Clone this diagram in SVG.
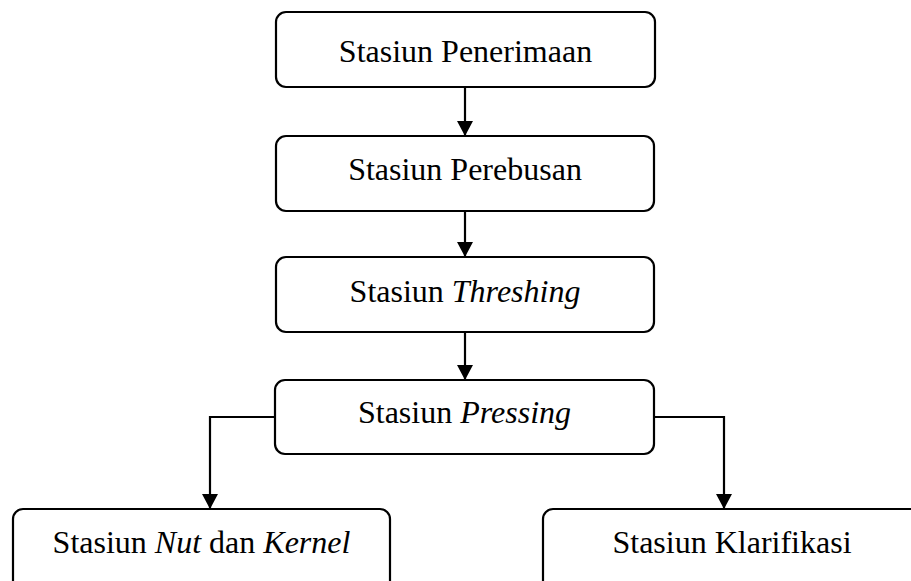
<svg xmlns="http://www.w3.org/2000/svg" width="911" height="581" viewBox="0 0 911 581">
<defs>
<style>
.box{fill:#fff;stroke:#000;stroke-width:2.2}
.lbl{font-family:"Liberation Serif","Times New Roman",serif;font-size:32px;fill:#000;text-anchor:middle}
.it{font-style:italic}
.ln{fill:none;stroke:#000;stroke-width:2.2}
</style>
<marker id="ah" viewBox="0 0 15 16" refX="15" refY="8" markerWidth="15" markerHeight="16" markerUnits="userSpaceOnUse" orient="auto">
<path d="M0,0 L15,8 L0,16 Z" fill="#000"/>
</marker>
</defs>
<rect width="911" height="581" fill="#fff"/>
<g id="connectors">
<line class="ln" x1="465" y1="87" x2="465" y2="136" marker-end="url(#ah)"/>
<line class="ln" x1="465" y1="211" x2="465" y2="257" marker-end="url(#ah)"/>
<line class="ln" x1="465" y1="332" x2="465" y2="380" marker-end="url(#ah)"/>
<polyline class="ln" points="275,417 210,417 210,509" marker-end="url(#ah)"/>
<polyline class="ln" points="654,417 724,417 724,509" marker-end="url(#ah)"/>
</g>
<g id="n1">
<rect class="box" x="276" y="12" width="379" height="75" rx="10"/>
<text class="lbl" x="465.5" y="62">Stasiun Penerimaan</text>
</g>
<g id="n2">
<rect class="box" x="276" y="136" width="378" height="75" rx="10"/>
<text class="lbl" x="465" y="180">Stasiun Perebusan</text>
</g>
<g id="n3">
<rect class="box" x="276" y="257" width="378" height="75" rx="10"/>
<text class="lbl" x="465" y="302">Stasiun <tspan class="it">Threshing</tspan></text>
</g>
<g id="n4">
<rect class="box" x="275" y="380" width="379" height="74" rx="10"/>
<text class="lbl" x="464.5" y="423">Stasiun <tspan class="it">Pressing</tspan></text>
</g>
<g id="n5">
<rect class="box" x="13" y="509" width="377" height="90" rx="10"/>
<text class="lbl" x="201.5" y="553">Stasiun <tspan class="it">Nut</tspan> dan <tspan class="it">Kernel</tspan></text>
</g>
<g id="n6">
<rect class="box" x="543" y="509" width="378" height="90" rx="10"/>
<text class="lbl" x="732" y="553">Stasiun Klarifikasi</text>
</g>
</svg>
